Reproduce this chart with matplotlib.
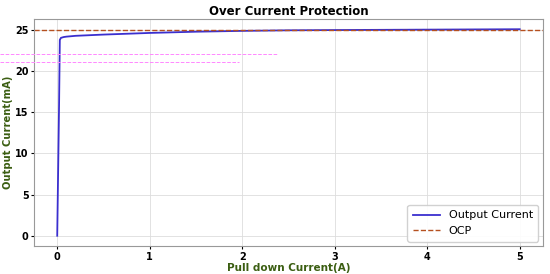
import matplotlib
matplotlib.use("Agg")
import matplotlib.pyplot as plt
from matplotlib.lines import Line2D

# pull down current (A) and measured output current (mA)
pull_down = [0, 0.01, 0.02, 0.028, 0.04, 0.07, 0.1, 0.2, 0.5, 1.0, 1.5, 2.0, 2.5, 3.0, 4.0, 5.0]
output_ma = [0, 8.0, 16.0, 23.8, 24.05, 24.15, 24.2, 24.3, 24.45, 24.65, 24.8, 24.9, 24.97, 25.0, 25.05, 25.1]
ocp_level = 25

fig = plt.figure(figsize=(5.5, 2.74), dpi=100)
ax = fig.add_axes([0.062, 0.102, 0.925, 0.829])

ax.plot(pull_down, output_ma, color="#3a2fcf", lw=1.3, label="Output Current")
ax.axhline(ocp_level, color="#b5501f", ls="--", lw=1.0, label="OCP")

ax.set_title("Over Current Protection", fontsize=8.5, fontweight="bold", pad=3)
ax.set_xlabel("Pull down Current(A)", fontsize=7.5, fontweight="bold", color="#3b5e12", labelpad=1)
ax.set_ylabel("Output Current(mA)", fontsize=7.2, fontweight="bold", color="#3b5e12", labelpad=1.5)
ax.tick_params(labelsize=7, length=2, pad=2)
for lab in ax.get_xticklabels() + ax.get_yticklabels():
    lab.set_fontweight("bold")
ax.grid(True, color="#dddddd", lw=0.6)
for s in ax.spines.values():
    s.set_color("#999999")
ax.legend(loc="lower right", fontsize=8, framealpha=0.9, handlelength=2.4,
          borderpad=0.5, labelspacing=0.5, borderaxespad=0.4)

# faint dashed ghost lines visible in the source image
fig.add_artist(Line2D([0, 0.505], [1 - 54 / 274] * 2, color="#ff88ff", ls="--", lw=0.7))
fig.add_artist(Line2D([0, 0.435], [1 - 62 / 274] * 2, color="#ff88ff", ls="--", lw=0.7))

fig.savefig("out.png", dpi=100)
